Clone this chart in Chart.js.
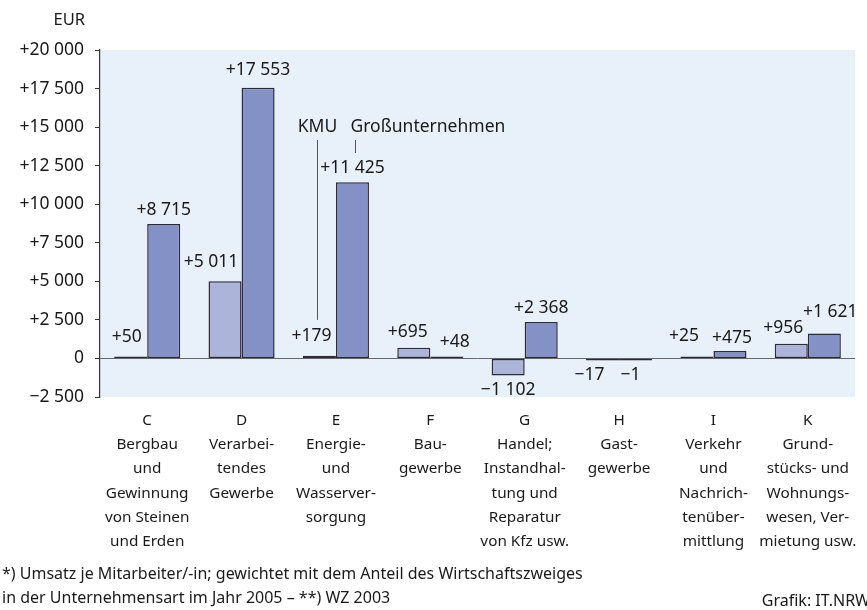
<!DOCTYPE html>
<html>
<head>
<meta charset="utf-8">
<script src="https://cdn.jsdelivr.net/npm/chart.js@4"></script>
<style>
html,body{margin:0;padding:0;background:#fff;}
#wrap{width:867px;height:610px;position:relative;}
</style>
</head>
<body>
<div id="wrap"><canvas id="c" width="867" height="610"></canvas></div>
<script>
const categories = ['C','D','E','F','G','H','I','K'];
const categoryNames = [
  ['Bergbau','und','Gewinnung','von Steinen','und Erden'],
  ['Verarbei-','tendes','Gewerbe'],
  ['Energie-','und','Wasserver-','sorgung'],
  ['Bau-','gewerbe'],
  ['Handel;','Instandhal-','tung und','Reparatur','von Kfz usw.'],
  ['Gast-','gewerbe'],
  ['Verkehr','und','Nachrich-','tenüber-','mittlung'],
  ['Grund-','stücks- und','Wohnungs-','wesen, Ver-','mietung usw.']
];
const seriesNames = ['KMU','Großunternehmen'];
const kmuValues = [50, 5011, 179, 695, -1102, -17, 25, 956];
const grossValues = [8715, 17553, 11425, 48, 2368, -1, 475, 1621];
const yTicks = [-2500, 0, 2500, 5000, 7500, 10000, 12500, 15000, 17500, 20000];
const unitLabel = 'EUR';
const footnotes = [
  '*) Umsatz je Mitarbeiter/-in; gewichtet mit dem Anteil des Wirtschaftszweiges',
  'in der Unternehmensart im Jahr 2005 – **) WZ 2003'
];
const sourceText = 'Grafik: IT.NRW';

const FONT = "'Noto Sans', 'Open Sans', sans-serif";

function fmt(v, sign) {
  if (v === 0) return '0';
  const s = Math.abs(v).toString().replace(/\B(?=(\d{3})+(?!\d))/g, ' ');
  return (v < 0 ? '\u2212' : (sign ? '+' : '')) + s;
}

// per-label nudges [dx, dy] keyed datasetIndex-barIndex
const labelNudge = {
  '0-0':[-4,-3], '0-1':[-14,-3], '0-2':[-8,-4], '0-3':[-6,0], '0-4':[0,-1],
  '0-5':[-13,-1], '0-6':[-13,-4], '0-7':[-8,0],
  '1-0':[0,2], '1-1':[0,-2], '1-2':[0,2], '1-3':[8,2], '1-4':[0,2],
  '1-5':[-5,-1], '1-6':[2,3], '1-7':[6,-5]
};

const bgPlugin = {
  id: 'bgPlugin',
  beforeDraw(chart) {
    const {ctx, chartArea: a} = chart;
    ctx.save();
    ctx.fillStyle = '#e8f0fa';
    ctx.fillRect(a.left, a.top, a.right - a.left, a.bottom - a.top);
    ctx.restore();
  },
  afterDraw(chart) {
    const {ctx, chartArea: a} = chart;
    const y = chart.scales.y;
    ctx.save();
    ctx.fillStyle = '#1a1a1a';
    ctx.font = '17.5px ' + FONT;
    ctx.textAlign = 'center';
    ctx.textBaseline = 'middle';
    chart.data.datasets.forEach((ds, di) => {
      const meta = chart.getDatasetMeta(di);
      meta.data.forEach((bar, i) => {
        const v = ds.data[i];
        const n = labelNudge[di + '-' + i] || [0, 0];
        const top = Math.min(bar.y, bar.base);
        const bottom = Math.max(bar.y, bar.base);
        const ty = v >= 0 ? top - 16 : bottom + 16;
        ctx.fillText(fmt(v, true), bar.x + n[0], ty + n[1]);
      });
    });
    // series annotation at category E
    const kb = chart.getDatasetMeta(0).data[2];
    const gb = chart.getDatasetMeta(1).data[2];
    const kx = Math.round(kb.x - 2) + 0.5;
    const gx = Math.round(gb.x + 3) + 0.5;
    ctx.strokeStyle = '#555';
    ctx.lineWidth = 1;
    ctx.beginPath();
    ctx.moveTo(kx, a.top + 90);
    ctx.lineTo(kx, y.getPixelForValue(2500));
    ctx.moveTo(gx, a.top + 90);
    ctx.lineTo(gx, a.top + 103);
    ctx.stroke();
    ctx.fillStyle = '#1a1a1a';
    ctx.font = '17.5px ' + FONT;
    ctx.textAlign = 'center';
    ctx.fillText(seriesNames[0], kx, a.top + 77);
    ctx.textAlign = 'left';
    ctx.fillText(seriesNames[1], gx - 5, a.top + 77);
    // unit
    ctx.textAlign = 'right';
    ctx.font = '16.5px ' + FONT;
    ctx.fillText(unitLabel, 85, 20);
    // footnotes
    ctx.textAlign = 'left';
    ctx.font = '16px ' + FONT;
    ctx.fillText(footnotes[0], 2, 574);
    ctx.fillText(footnotes[1], 2, 598);
    ctx.textAlign = 'right';
    ctx.fillText(sourceText, 870, 601);
    ctx.restore();
  }
};

const labels = categories.map((c, i) => [c].concat(categoryNames[i]));

new Chart(document.getElementById('c'), {
  type: 'bar',
  data: {
    labels: labels,
    datasets: [
      { label: seriesNames[0], data: kmuValues, backgroundColor: '#adb4da', borderColor: '#2b2b3a', borderWidth: 1.5, borderSkipped: false, minBarLength: 2 },
      { label: seriesNames[1], data: grossValues, backgroundColor: '#8391c6', borderColor: '#2b2b3a', borderWidth: 1.5, borderSkipped: false, minBarLength: 2 }
    ]
  },
  options: {
    responsive: false,
    animation: false,
    devicePixelRatio: 1,
    layout: { padding: { top: 50, right: 12, left: 0, bottom: 0 } },
    datasets: { bar: { categoryPercentage: 0.7, barPercentage: 1.0 } },
    plugins: { legend: { display: false }, tooltip: { enabled: false }, title: { display: false } },
    scales: {
      x: {
        grid: { display: false },
        border: { display: false },
        ticks: { color: '#1a1a1a', font: { family: FONT, size: 15.3, lineHeight: 1.59 }, padding: 3, maxRotation: 0, autoSkip: false },
        afterFit(s) { s.height = 213; }
      },
      y: {
        min: -2500, max: 20000,
        afterBuildTicks(s) { s.ticks = yTicks.map(v => ({ value: v })); },
        grid: {
          drawOnChartArea: true,
          color: c => (c.tick && c.tick.value === 0) ? '#666' : 'rgba(0,0,0,0)',
          tickColor: '#333', tickLength: 5, lineWidth: 1
        },
        border: { display: true, color: '#333', width: 1.2 },
        ticks: { color: '#1a1a1a', font: { family: FONT, size: 17.5 }, padding: 11, callback: v => fmt(v, true) },
        afterFit(s) { s.width = 100; }
      }
    }
  },
  plugins: [bgPlugin]
});
</script>
</body>
</html>
